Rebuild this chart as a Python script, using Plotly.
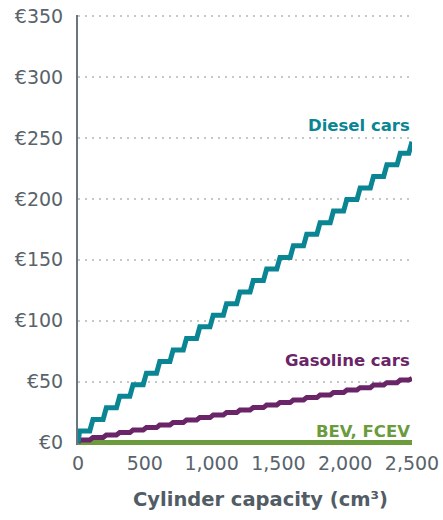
import plotly.graph_objects as go

# Step breakpoints (cm3) and the tax level that applies from each breakpoint on
breakpoints = [0, 100, 200, 300, 400, 500, 600, 700, 800, 900, 1000, 1100, 1200,
               1300, 1400, 1500, 1600, 1700, 1800, 1900, 2000, 2100, 2200, 2300, 2400, 2500]
diesel = [9.5, 19, 28.5, 38, 47.5, 57, 66.5, 76, 85.5, 95, 104.5, 114, 123.5,
          133, 142.5, 152, 161.5, 171, 180.5, 190, 199.5, 209, 218.5, 228, 237.5, 247]
gasoline = [2.1, 4.1, 6.2, 8.2, 10.3, 12.3, 14.4, 16.4, 18.5, 20.5, 22.6, 24.6, 26.7,
            28.7, 30.8, 32.8, 34.9, 36.9, 39.0, 41.0, 43.1, 45.1, 47.2, 49.2, 51.3, 52.5]
bev_fcev = [0] * len(breakpoints)

y_ticks = [0, 50, 100, 150, 200, 250, 300, 350]
y_labels = ["€0", "€50", "€100", "€150", "€200", "€250", "€300", "€350"]
x_ticks = [0, 500, 1000, 1500, 2000, 2500]
x_labels = ["0", "500", "1,000", "1,500", "2,000", "2,500"]

TEAL = "#0a8594"
PURPLE = "#6a2568"
GREEN = "#6b9b3d"
GREY = "#515c65"
TICK_GREY = "#59636b"

RISER = 12  # half-width of the slanted step risers (style only)
XMAX = breakpoints[-1]


def step_path(bps, levels):
    xs, ys = [0], [0]
    prev = 0
    for b, lv in zip(bps, levels):
        x0 = max(0, min(XMAX, b - RISER))
        x1 = max(0, min(XMAX, b + RISER))
        if b == XMAX:
            x0, x1 = XMAX - 2 * RISER, XMAX
        xs += [x0, x1]
        ys += [prev, lv]
        prev = lv
    return xs, ys


fig = go.Figure()
fig.add_trace(go.Scatter(x=[breakpoints[0], breakpoints[-1]], y=[bev_fcev[0], bev_fcev[-1]],
                         mode="lines", line=dict(color=GREEN, width=5), hoverinfo="skip"))
gx, gy = step_path(breakpoints, gasoline)
fig.add_trace(go.Scatter(x=gx, y=gy, mode="lines", line=dict(color=PURPLE, width=5),
                         hoverinfo="skip"))
dx, dy = step_path(breakpoints, diesel)
fig.add_trace(go.Scatter(x=dx, y=dy, mode="lines", line=dict(color=TEAL, width=5),
                         hoverinfo="skip"))

font_family = "DejaVu Sans"
ann = [
    ("Diesel cars", 260, TEAL),
    ("Gasoline cars", 67, PURPLE),
    ("BEV, FCEV", 9, GREEN),
]
for text, yv, col in ann:
    fig.add_annotation(x=2500, y=yv, xref="x", yref="y", text=f"<b>{text}</b>", showarrow=False,
                       xanchor="right", yanchor="middle",
                       font=dict(family=font_family, size=16.5, color=col))

# x-axis title, placed as in the reference (slightly right of the plot centre)
fig.add_annotation(x=0.545, y=-0.127, xref="paper", yref="paper",
                   text="<b>Cylinder capacity (cm³)</b>", showarrow=False,
                   xanchor="center", yanchor="middle",
                   font=dict(family=font_family, size=19.5, color=GREY))

fig.update_layout(
    width=443, height=520,
    margin=dict(l=78, r=31, t=15, b=75),
    plot_bgcolor="white", paper_bgcolor="white",
    showlegend=False,
    font=dict(family=font_family, color=GREY),
)
fig.update_xaxes(range=[0, 2500], tickvals=x_ticks, ticktext=x_labels, showgrid=False,
                 zeroline=False, showline=False, ticks="", automargin=False,
                 ticklabeloverflow="allow", ticklabelstandoff=5,
                 tickfont=dict(family=font_family, size=19, color=TICK_GREY))
fig.update_yaxes(range=[-2, 351], tickvals=y_ticks, ticktext=y_labels, showgrid=True,
                 gridcolor="#c3c8cc", griddash="2px,5px", gridwidth=2,
                 zeroline=False, showline=True, linecolor="#6b757d", linewidth=2, ticks="",
                 ticklabelstandoff=9, automargin=False, ticklabeloverflow="allow",
                 tickfont=dict(family=font_family, size=19, color=TICK_GREY))

# remove the browser's default 8px body margin so the figure fills the window exactly
fig.write_html("out.html", config={"displayModeBar": False},
               post_script="document.body.style.margin='0';")
